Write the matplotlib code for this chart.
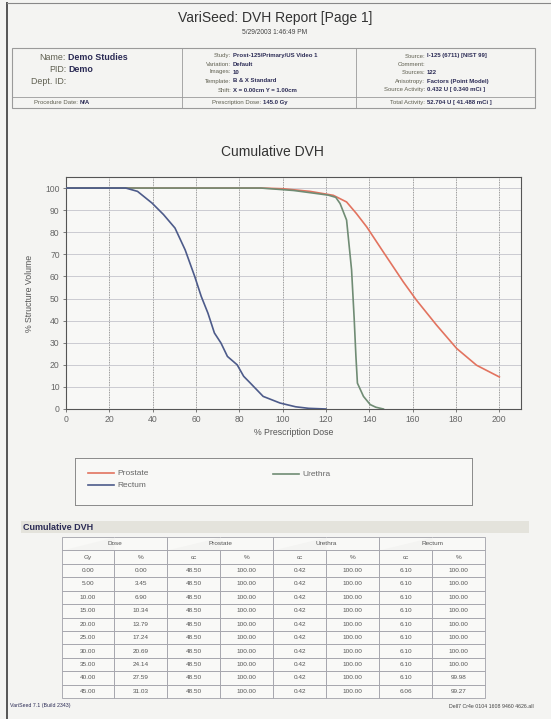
import matplotlib.pyplot as plt
from matplotlib.patches import Rectangle
from matplotlib.lines import Line2D

plt.rcParams['font.family'] = ['Liberation Sans', 'DejaVu Sans']

# DVH curves (% prescription dose vs % structure volume)
prostate_dose = [0, 90, 100, 112.6, 123.4, 129.5, 134, 138.8, 146.5, 155.7, 161.8, 171, 180.3, 189.5, 200]
prostate_vol = [100, 100, 99.7, 98.5, 96.7, 93.7, 88.5, 82.4, 71, 57.5, 49.2, 38, 27.4, 19.8, 14.5]
urethra_dose = [0, 90, 105, 115, 121, 124.5, 126.5, 129.5, 131.8, 133, 133.8, 134.5, 137.3, 140.4, 143, 146.5]
urethra_vol = [100, 100, 98.9, 97.6, 96.8, 95.8, 93, 85.5, 63, 41, 24, 11.7, 5.7, 2, 0.8, 0]
rectum_dose = [0, 27.6, 33, 39.7, 45, 50.3, 55, 59.4, 62.4, 65.5, 68.5, 71.5, 74.5, 79, 82, 85, 91, 98.8, 106, 112, 120]
rectum_vol = [100, 100, 98.5, 93.2, 88, 81.9, 72, 60, 51, 43.4, 34.4, 29.9, 23.8, 20, 14.8, 11.8, 5.7, 2.7, 1, 0.3, 0]

# table values
dose_gy = ['0.00', '5.00', '10.00', '15.00', '20.00', '25.00', '30.00', '35.00', '40.00', '45.00']
dose_pct = ['0.00', '3.45', '6.90', '10.34', '13.79', '17.24', '20.69', '24.14', '27.59', '31.03']
prostate_cc = ['48.50'] * 10
prostate_pct = ['100.00'] * 10
urethra_cc = ['0.42'] * 10
urethra_pct = ['100.00'] * 10
rectum_cc = ['6.10'] * 9 + ['6.06']
rectum_pct = ['100.00'] * 8 + ['99.98', '99.27']

W, H = 551, 719
def fx(x): return x / W
def fy(y): return 1 - y / H

fig = plt.figure(figsize=(5.51, 7.19), dpi=100, facecolor='#f4f4f2')

# page frame
fig.add_artist(Line2D([fx(7), fx(7)], [0, fy(3)], color='#555555', lw=1.4))
fig.add_artist(Line2D([fx(7), 1], [fy(3), fy(3)], color='#888888', lw=0.8))

# titles
fig.text(fx(275), fy(18), 'VariSeed: DVH Report [Page 1]', ha='center', va='center', fontsize=10, color='#333333')
fig.text(fx(275), fy(32), '5/29/2003 1:46:49 PM', ha='center', va='center', fontsize=4.8, color='#444444')

# header box
edge = '#9a9a9a'
fig.add_artist(Rectangle((fx(12), fy(108)), (535 - 12) / W, 60 / H, transform=fig.transFigure,
                         fill=False, edgecolor=edge, lw=0.8))
fig.add_artist(Line2D([fx(12), fx(535)], [fy(97), fy(97)], color=edge, lw=0.6))
for xd in (182, 356):
    fig.add_artist(Line2D([fx(xd), fx(xd)], [fy(48), fy(108)], color=edge, lw=0.6))

lab_c, val_c = '#5f5f50', '#2b2b55'
for lab, val, y in [('Name:', 'Demo Studies', 58), ('PID:', 'Demo', 70), ('Dept. ID:', '', 82)]:
    fig.text(fx(66), fy(y), lab, ha='right', va='center', fontsize=6.4, color=lab_c)
    fig.text(fx(68), fy(y), val, ha='left', va='center', fontsize=6.4, color=val_c, fontweight='bold')


def pair(xr, y, lab, val):
    fig.text(fx(xr), fy(y), lab, ha='right', va='center', fontsize=4.3, color=lab_c)
    fig.text(fx(xr + 2), fy(y), val, ha='left', va='center', fontsize=4.3, color=val_c, fontweight='bold')


pair(78, 102.5, 'Procedure Date:', 'N/A')

mid = [('Study:', 'Prost-125/Primary/US Video 1', 56), ('Variation:', 'Default', 64),
       ('Images:', '10', 72), ('Template:', 'B & X Standard', 81), ('Shift:', 'X = 0.00cm Y = 1.00cm', 90)]
for lab, val, y in mid:
    pair(231, y, lab, val)
pair(261, 102.5, 'Prescription Dose:', '145.0 Gy')

right = [('Source:', 'I-125 (6711) [NIST 99]', 56), ('Comment:', '', 64), ('Sources:', '122', 72),
         ('Anisotropy:', 'Factors (Point Model)', 81), ('Source Activity:', '0.432 U [ 0.340 mCi ]', 90)]
for lab, val, y in right:
    pair(425, y, lab, val)
pair(425, 102.5, 'Total Activity:', '52.704 U [ 41.488 mCi ]')

# chart
fig.text(fx(272), fy(152), 'Cumulative DVH', ha='center', va='center', fontsize=10, color='#333333')
ax = fig.add_axes([fx(66), fy(409), (521 - 66) / W, (409 - 177) / H], facecolor='#f8f8f6')
ax.plot(prostate_dose, prostate_vol, color='#e2735f', lw=1.2, zorder=3)
ax.plot(urethra_dose, urethra_vol, color='#708c74', lw=1.2, zorder=3)
ax.plot(rectum_dose, rectum_vol, color='#4d5b8a', lw=1.2, zorder=3)
ax.set_xlim(0, 210)
ax.set_ylim(0, 105)
ax.set_xticks(range(0, 201, 20))
ax.set_yticks(range(0, 101, 10))
for v in range(20, 201, 20):
    ax.axvline(v, color='#7a7a7a', lw=0.6, ls=(0, (1, 1)), zorder=1)
for v in range(10, 101, 10):
    ax.axhline(v, color='#c4c4cc', lw=0.6, zorder=1)
ax.tick_params(labelsize=6.2, colors='#666666', length=2.5, width=0.6, pad=2)
for s in ax.spines.values():
    s.set_color('#555555')
    s.set_linewidth(0.8)
ax.set_xlabel('% Prescription Dose', fontsize=6.3, color='#555555', labelpad=3)
ax.set_ylabel('% Structure Volume', fontsize=6.3, color='#555555', labelpad=8)

# legend box
lax = fig.add_axes([fx(75), fy(505), (472 - 75) / W, (505 - 458) / H], facecolor='#f8f8f6')
lax.set_xlim(75, 472)
lax.set_ylim(505, 458)
lax.set_xticks([])
lax.set_yticks([])
for s in lax.spines.values():
    s.set_color('#8a8a8a')
    s.set_linewidth(0.7)
for name, col, x0, y0 in [('Prostate', '#e2735f', 88, 473), ('Rectum', '#4d5b8a', 88, 485),
                          ('Urethra', '#708c74', 273, 474)]:
    lax.plot([x0, x0 + 26], [y0, y0], color=col, lw=1.2)
    lax.text(x0 + 29, y0, name, va='center', ha='left', fontsize=6, color='#666666')

# table section header
fig.add_artist(Rectangle((fx(21), fy(533)), (529 - 21) / W, 12 / H, transform=fig.transFigure,
                         facecolor='#e4e3dc', edgecolor='none'))
fig.text(fx(23), fy(527), 'Cumulative DVH', ha='left', va='center', fontsize=6.5,
         color='#2b2b55', fontweight='bold')

tax = fig.add_axes([fx(61.5), fy(698), (485 - 61.5) / W, (698 - 537) / H])
tax.axis('off')
rows = [[''] * 8, ['Gy', '%', 'cc', '%', 'cc', '%', 'cc', '%']]
for i in range(len(dose_gy)):
    rows.append([dose_gy[i], dose_pct[i], prostate_cc[i], prostate_pct[i],
                 urethra_cc[i], urethra_pct[i], rectum_cc[i], rectum_pct[i]])
tbl = tax.table(cellText=rows, cellLoc='center', bbox=[0, 0, 1, 1])
tbl.auto_set_font_size(False)
tbl.set_fontsize(4.6)
for (r, c), cell in tbl.get_celld().items():
    cell.set_edgecolor('#a0a0a8')
    cell.set_linewidth(0.6)
    cell.set_facecolor('#f9f9f7')
    cell.get_text().set_color('#555555')
    if r == 0:
        cell.visible_edges = 'BTL' if c % 2 == 0 else 'BTR'
nrows = len(rows)
for k, name in enumerate(['Dose', 'Prostate', 'Urethra', 'Rectum']):
    tax.text((2 * k + 1) / 8, 1 - 0.5 / nrows, name, ha='center', va='center',
             fontsize=4.6, color='#555555', transform=tax.transAxes)

# footer
fig.text(fx(10), fy(706), 'VariSeed 7.1 (Build 2343)', ha='left', va='center', fontsize=3.8, color='#2b2b55')
fig.text(fx(534), fy(707), 'Dell7 Cr4e 0104 1608 9460 4626.all', ha='right', va='center', fontsize=3.8, color='#444444')

fig.savefig('out.png', dpi=100, facecolor=fig.get_facecolor())
